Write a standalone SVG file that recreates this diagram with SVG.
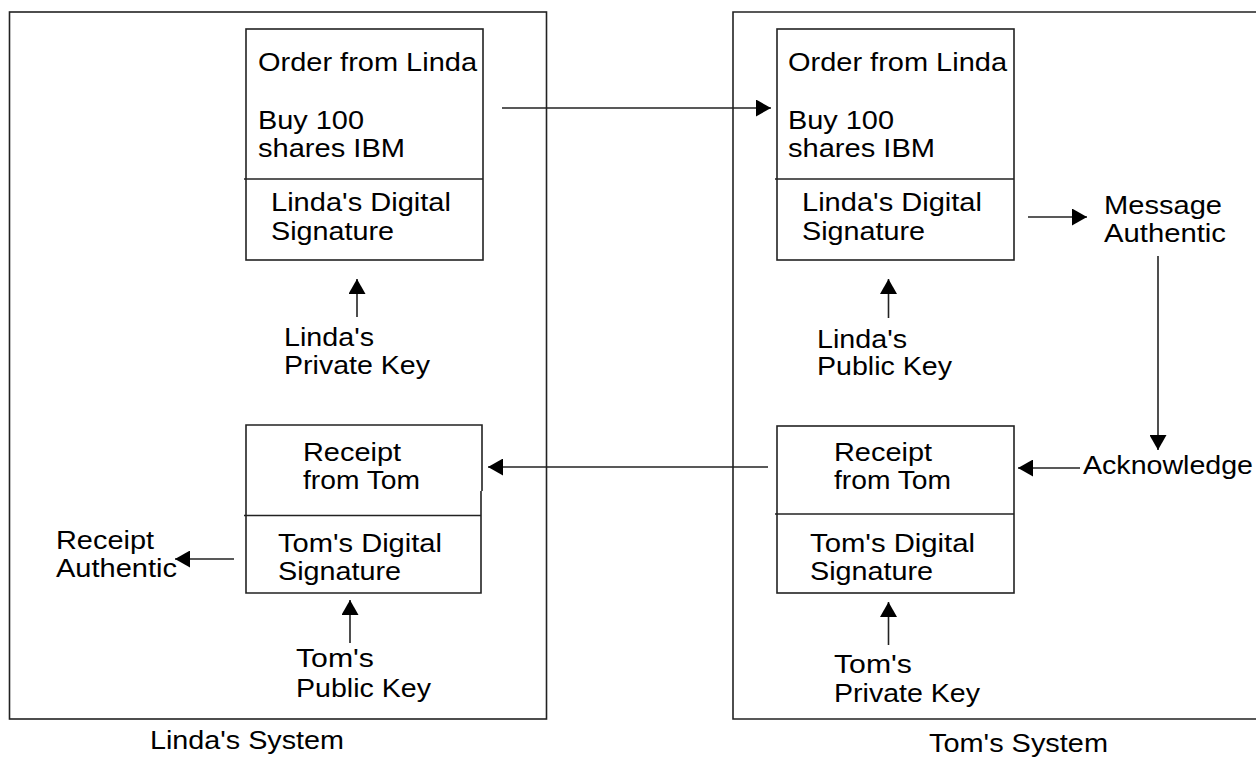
<svg xmlns="http://www.w3.org/2000/svg" width="1256" height="757" viewBox="0 0 1256 757">
<style>
.frame{fill:none;stroke:#222;stroke-width:1.6}
.ln{fill:none;stroke:#222;stroke-width:1.6}
.t{font-family:"Liberation Sans",Arial,Helvetica,sans-serif;font-size:26px;fill:#000}
</style>
<defs>
<marker id="ah" markerUnits="userSpaceOnUse" markerWidth="16" markerHeight="17" refX="15" refY="8.5" orient="auto">
<path d="M0,0 L15,8.5 L0,17 z" fill="#000"/>
</marker>
</defs>
<rect width="1256" height="757" fill="#fff"/>

<g id="linda-system">
<rect class="frame" x="9.5" y="12" width="537" height="707"/>
<text class="t" x="150" y="749" textLength="194" lengthAdjust="spacingAndGlyphs">Linda's System</text>
</g>
<g id="tom-system">
<path class="frame" d="M1260,12 H733 V719 H1260"/>
<text class="t" x="929" y="752" textLength="179" lengthAdjust="spacingAndGlyphs">Tom's System</text>
</g>

<g id="linda-order">
<rect class="frame" x="246" y="29" width="237" height="231"/>
<line class="ln" x1="244" y1="179" x2="483" y2="179"/>
<text class="t" x="258" y="71" textLength="219" lengthAdjust="spacingAndGlyphs">Order from Linda</text>
<text class="t" x="258" y="129" textLength="106" lengthAdjust="spacingAndGlyphs">Buy 100</text>
<text class="t" x="258" y="157" textLength="147" lengthAdjust="spacingAndGlyphs">shares IBM</text>
<text class="t" x="271" y="211" textLength="180" lengthAdjust="spacingAndGlyphs">Linda's Digital</text>
<text class="t" x="271" y="240" textLength="123" lengthAdjust="spacingAndGlyphs">Signature</text>
</g>
<g id="linda-private-key">
<text class="t" x="284" y="346" textLength="90" lengthAdjust="spacingAndGlyphs">Linda's</text>
<text class="t" x="284" y="374" textLength="146" lengthAdjust="spacingAndGlyphs">Private Key</text>
</g>

<g id="tom-order">
<rect class="frame" x="777" y="29" width="237" height="231"/>
<line class="ln" x1="775" y1="179" x2="1014" y2="179"/>
<text class="t" x="788" y="71" textLength="219" lengthAdjust="spacingAndGlyphs">Order from Linda</text>
<text class="t" x="788" y="129" textLength="106" lengthAdjust="spacingAndGlyphs">Buy 100</text>
<text class="t" x="788" y="157" textLength="147" lengthAdjust="spacingAndGlyphs">shares IBM</text>
<text class="t" x="802" y="211" textLength="180" lengthAdjust="spacingAndGlyphs">Linda's Digital</text>
<text class="t" x="802" y="240" textLength="123" lengthAdjust="spacingAndGlyphs">Signature</text>
</g>
<g id="linda-public-key">
<text class="t" x="817" y="348" textLength="90" lengthAdjust="spacingAndGlyphs">Linda's</text>
<text class="t" x="817" y="375" textLength="135" lengthAdjust="spacingAndGlyphs">Public Key</text>
</g>
<g id="message-authentic">
<text class="t" x="1104" y="214" textLength="118" lengthAdjust="spacingAndGlyphs">Message</text>
<text class="t" x="1104" y="242" textLength="122" lengthAdjust="spacingAndGlyphs">Authentic</text>
</g>
<g id="acknowledge">
<text class="t" x="1083" y="474" textLength="170" lengthAdjust="spacingAndGlyphs">Acknowledge</text>
</g>

<g id="linda-receipt">
<path class="frame" d="M482,491 V425 H246 V593 H481 V491"/>
<line class="ln" x1="244" y1="515.5" x2="481" y2="515.5"/>
<text class="t" x="303" y="461" textLength="98" lengthAdjust="spacingAndGlyphs">Receipt</text>
<text class="t" x="303" y="489" textLength="117" lengthAdjust="spacingAndGlyphs">from Tom</text>
<text class="t" x="278" y="552" textLength="164" lengthAdjust="spacingAndGlyphs">Tom's Digital</text>
<text class="t" x="278" y="580" textLength="123" lengthAdjust="spacingAndGlyphs">Signature</text>
</g>
<g id="receipt-authentic">
<text class="t" x="56" y="549" textLength="98" lengthAdjust="spacingAndGlyphs">Receipt</text>
<text class="t" x="56" y="577" textLength="121" lengthAdjust="spacingAndGlyphs">Authentic</text>
</g>
<g id="tom-public-key">
<text class="t" x="296" y="667" textLength="78" lengthAdjust="spacingAndGlyphs">Tom's</text>
<text class="t" x="296" y="697" textLength="135" lengthAdjust="spacingAndGlyphs">Public Key</text>
</g>

<g id="tom-receipt">
<rect class="frame" x="777" y="426" width="237" height="167"/>
<line class="ln" x1="775" y1="514" x2="1014" y2="514"/>
<text class="t" x="834" y="461" textLength="98" lengthAdjust="spacingAndGlyphs">Receipt</text>
<text class="t" x="834" y="489" textLength="117" lengthAdjust="spacingAndGlyphs">from Tom</text>
<text class="t" x="810" y="552" textLength="165" lengthAdjust="spacingAndGlyphs">Tom's Digital</text>
<text class="t" x="810" y="580" textLength="123" lengthAdjust="spacingAndGlyphs">Signature</text>
</g>
<g id="tom-private-key">
<text class="t" x="834" y="673" textLength="78" lengthAdjust="spacingAndGlyphs">Tom's</text>
<text class="t" x="834" y="702" textLength="146" lengthAdjust="spacingAndGlyphs">Private Key</text>
</g>

<g id="connectors">
<line class="ln" x1="502" y1="108" x2="771" y2="108" marker-end="url(#ah)"/>
<line class="ln" x1="357" y1="317" x2="357" y2="279" marker-end="url(#ah)"/>
<line class="ln" x1="888.5" y1="318" x2="888.5" y2="279" marker-end="url(#ah)"/>
<line class="ln" x1="1028" y1="217" x2="1087" y2="217" marker-end="url(#ah)"/>
<line class="ln" x1="1158" y1="256" x2="1158" y2="450" marker-end="url(#ah)"/>
<line class="ln" x1="1080" y1="468" x2="1018" y2="468" marker-end="url(#ah)"/>
<line class="ln" x1="768" y1="467" x2="488" y2="467" marker-end="url(#ah)"/>
<line class="ln" x1="888.5" y1="645" x2="888.5" y2="602" marker-end="url(#ah)"/>
<line class="ln" x1="350" y1="643" x2="350" y2="600" marker-end="url(#ah)"/>
<line class="ln" x1="234" y1="559" x2="175" y2="559" marker-end="url(#ah)"/>
</g>
</svg>
